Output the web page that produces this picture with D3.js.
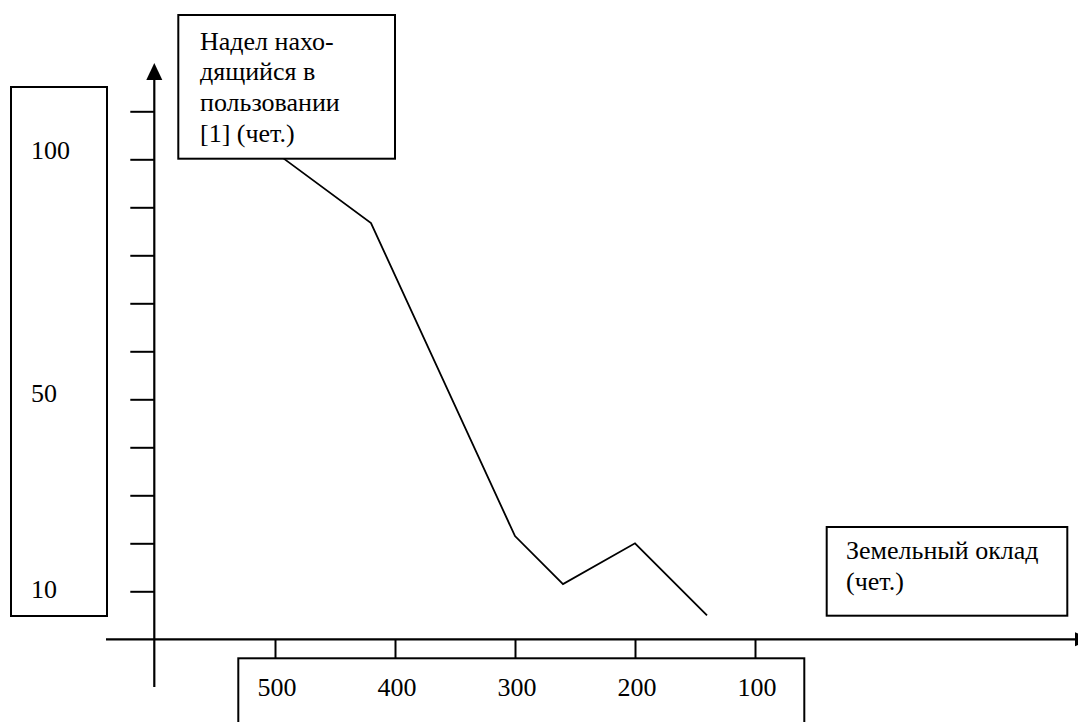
<!DOCTYPE html>
<html>
<head>
<meta charset="utf-8">
<script src="https://cdn.jsdelivr.net/npm/d3@7"></script>
<style>
  body { margin: 0; background: #fff; }
</style>
</head>
<body>
<div id="chart"></div>
<script>
// data
var landAllot = [500, 420, 300, 260, 200, 140];    // земельный оклад (чет.)
var landUsed = [101.5, 86.7, 21.5, 11.5, 20, 5];   // надел в пользовании (чет.)
var yTicks = [10, 20, 30, 40, 50, 60, 70, 80, 90, 100, 110];
var xTicks = [500, 400, 300, 200, 100];
var yLabels = [100, 50, 10];
var yLabelShift = [0, 2.5, 7];
var topTitle = ["Надел нахо-", "дящийся в", "пользовании", "[1] (чет.)"];
var rightTitle = ["Земельный оклад", "(чет.)"];

var width = 1078;
var height = 722;
var serif = "'Liberation Serif', 'Times New Roman', Times, 'DejaVu Serif', serif";

var svg = d3.select('#chart')
    .append('svg')
    .attr('width', width)
    .attr('height', height)
    .attr('font-family', serif)
    .attr('font-size', 26);

var x = d3.scaleLinear()
    .domain([0, 600])
    .range([875, 155]);
var y = d3.scaleLinear()
    .domain([0, 110])
    .range([639.3, 111.3]);

// left box with y labels
svg.append('rect')
    .attr('x', 11).attr('y', 87)
    .attr('width', 96).attr('height', 529)
    .attr('fill', '#fff').attr('stroke', '#000').attr('stroke-width', 2);

yLabels.forEach(function (v, i) {
    svg.append('text')
        .attr('x', 31)
        .attr('y', y(v) + yLabelShift[i])
        .attr('font-family', serif)
        .text(v);
});

// bottom box with x labels
svg.append('rect')
    .attr('x', 238.3).attr('y', 658.3)
    .attr('width', 566).attr('height', 80)
    .attr('fill', '#fff').attr('stroke', '#000').attr('stroke-width', 2);

svg.selectAll('.xlab')
    .data(xTicks)
    .enter()
    .append('text')
    .attr('class', 'xlab')
    .attr('x', d => x(d) + 2)
    .attr('y', 696)
    .attr('text-anchor', 'middle')
    .attr('font-family', serif)
    .text(d => d);

// y ticks (left side, no labels)
var yAxis = d3.axisLeft(y)
    .tickValues(yTicks)
    .tickSize(24)
    .tickFormat('');
var gY = svg.append('g')
    .attr('transform', 'translate(154.3,0)')
    .call(yAxis);
gY.select('.domain').remove();
gY.selectAll('line').attr('stroke', '#000').attr('stroke-width', 2);

// x ticks (downward, to the box)
var xAxis = d3.axisBottom(x)
    .tickValues(xTicks)
    .tickSize(19)
    .tickFormat('');
var gX = svg.append('g')
    .attr('transform', 'translate(0,639.3)')
    .call(xAxis);
gX.select('.domain').remove();
gX.selectAll('line').attr('stroke', '#000').attr('stroke-width', 2);

// axes with arrows
svg.append('line')
    .attr('x1', 154.3).attr('y1', 687)
    .attr('x2', 154.3).attr('y2', 78)
    .attr('stroke', '#000').attr('stroke-width', 2.2);
svg.append('path')
    .attr('d', 'M146.3,80 L154.3,63 L162.3,80 Z')
    .attr('fill', '#000');

svg.append('line')
    .attr('x1', 106).attr('y1', 639.3)
    .attr('x2', 1076).attr('y2', 639.3)
    .attr('stroke', '#000').attr('stroke-width', 2.2);
svg.append('path')
    .attr('d', 'M1075,632.3 L1092,639.3 L1075,646.3 Z')
    .attr('fill', '#000');

// the line
var pts = landAllot.map(function (d, i) { return [d, landUsed[i]]; });
var line = d3.line()
    .x(d => x(d[0]))
    .y(d => y(d[1]));
svg.append('path')
    .datum(pts)
    .attr('d', line)
    .attr('fill', 'none')
    .attr('stroke', '#000')
    .attr('stroke-width', 1.8);

// top title box (drawn over the start of the line)
svg.append('rect')
    .attr('x', 178.3).attr('y', 15)
    .attr('width', 216.7).attr('height', 143.7)
    .attr('fill', '#fff').attr('stroke', '#000').attr('stroke-width', 2);
svg.append('text')
    .attr('font-family', serif)
    .selectAll('tspan')
    .data(topTitle)
    .enter()
    .append('tspan')
    .attr('x', 200)
    .attr('y', (d, i) => 49.5 + i * 30.8)
    .text(d => d);

// right title box
svg.append('rect')
    .attr('x', 826.7).attr('y', 527)
    .attr('width', 240.6).attr('height', 88.7)
    .attr('fill', '#fff').attr('stroke', '#000').attr('stroke-width', 2);
svg.append('text')
    .attr('font-family', serif)
    .selectAll('tspan')
    .data(rightTitle)
    .enter()
    .append('tspan')
    .attr('x', 846)
    .attr('y', (d, i) => 559.2 + i * 30.8)
    .text(d => d);
</script>
</body>
</html>
